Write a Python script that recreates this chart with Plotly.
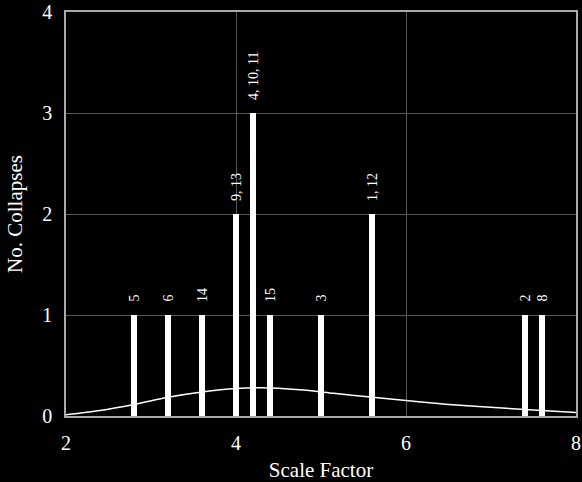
import plotly.graph_objects as go

# Data
scale_factors = [2.8, 3.2, 3.6, 4.0, 4.2, 4.4, 5.0, 5.6, 7.4, 7.6]
collapses = [1, 1, 1, 2, 3, 1, 1, 2, 1, 1]
bar_labels = ["5", "6", "14", "9, 13", "4, 10, 11", "15", "3", "1, 12", "2", "8"]

curve_x = [2.0, 2.4, 2.8, 3.2, 3.6, 4.0, 4.3, 4.75, 5.15, 5.55, 6.15, 6.5, 7.25, 8.0]
curve_y = [0.013, 0.055, 0.115, 0.185, 0.237, 0.272, 0.28, 0.26, 0.225, 0.19, 0.14, 0.115, 0.072, 0.035]

x_ticks = [2, 4, 6, 8]
y_ticks = [0, 1, 2, 3, 4]

FONT = "Liberation Serif"

fig = go.Figure()
fig.add_trace(go.Bar(x=scale_factors, y=collapses, width=0.08,
                     marker=dict(color="white", line=dict(width=0)),
                     showlegend=False))
fig.add_trace(go.Scatter(x=curve_x, y=curve_y, mode="lines",
                         line=dict(color="white", width=1.5, shape="spline", smoothing=0.8),
                         showlegend=False))

for xv, yv, lab in zip(scale_factors, collapses, bar_labels):
    fig.add_annotation(x=xv, y=yv, text=lab, showarrow=False, textangle=-90,
                       xanchor="center", yanchor="bottom", yshift=11,
                       font=dict(family=FONT, size=14, color="white"))

fig.update_layout(
    width=582, height=482,
    margin=dict(l=66, r=6, t=12, b=66),
    paper_bgcolor="black", plot_bgcolor="black",
    font=dict(family=FONT, color="white", size=20),
    bargap=0,
)
fig.update_xaxes(range=[2, 8], tickvals=x_ticks, showgrid=True, automargin=False,
                 gridcolor="rgb(85,85,85)", gridwidth=1,
                 showline=True, linecolor="rgb(170,170,170)", linewidth=1.5, mirror=True,
                 zeroline=False, ticks="", ticklabelstandoff=8,
                 title=dict(text="Scale Factor", font=dict(family=FONT, size=21), standoff=12))
fig.update_yaxes(range=[0, 4], tickvals=y_ticks, showgrid=True, automargin=False,
                 gridcolor="rgb(85,85,85)", gridwidth=1,
                 showline=True, linecolor="rgb(170,170,170)", linewidth=1.5, mirror=True,
                 zeroline=False, ticks="", ticklabelstandoff=8,
                 title=dict(text="No. Collapses", font=dict(family=FONT, size=21), standoff=14))

fig.write_html("out.html")
